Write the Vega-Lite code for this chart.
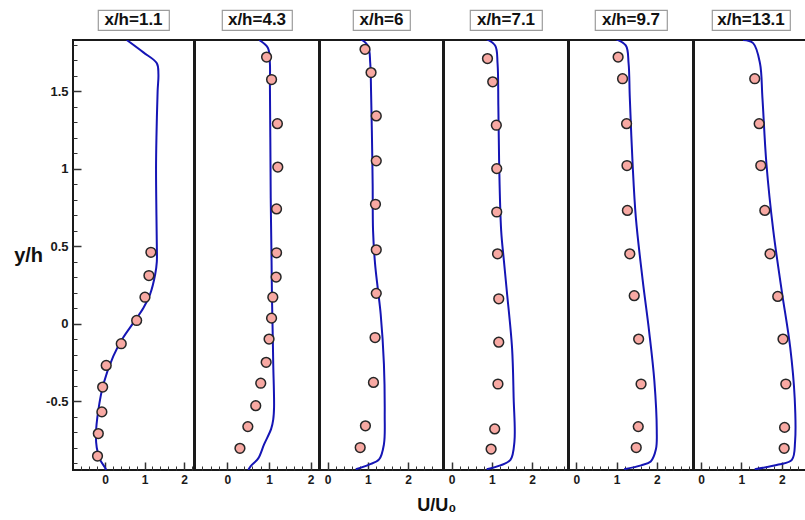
{
  "$schema": "https://vega.github.io/schema/vega-lite/v6.json",
  "padding": {"left": 12, "top": 9, "right": 0, "bottom": 0},
  "background": "white",
  "title": {"text": "U/U₀", "orient": "bottom", "anchor": "middle", "fontSize": 18, "fontWeight": "bold", "font": "Liberation Sans", "color": "#111111", "offset": 11, "dx": 26},
  "datasets": {
    "stations": [
      {"station": "x/h=1.1"}, {"station": "x/h=4.3"}, {"station": "x/h=6"},
      {"station": "x/h=7.1"}, {"station": "x/h=9.7"}, {"station": "x/h=13.1"}
    ],
    "cfd": [
      {"station": "x/h=1.1", "u": 0.55, "y": 1.83},
      {"station": "x/h=1.1", "u": 0.97, "y": 1.75},
      {"station": "x/h=1.1", "u": 1.31, "y": 1.68},
      {"station": "x/h=1.1", "u": 1.35, "y": 1.61},
      {"station": "x/h=1.1", "u": 1.33, "y": 1.5},
      {"station": "x/h=1.1", "u": 1.3, "y": 1.2},
      {"station": "x/h=1.1", "u": 1.29, "y": 1.0},
      {"station": "x/h=1.1", "u": 1.3, "y": 0.7},
      {"station": "x/h=1.1", "u": 1.31, "y": 0.5},
      {"station": "x/h=1.1", "u": 1.31, "y": 0.4},
      {"station": "x/h=1.1", "u": 1.27, "y": 0.32},
      {"station": "x/h=1.1", "u": 1.14, "y": 0.19},
      {"station": "x/h=1.1", "u": 0.97, "y": 0.1},
      {"station": "x/h=1.1", "u": 0.72, "y": 0.006},
      {"station": "x/h=1.1", "u": 0.46, "y": -0.09},
      {"station": "x/h=1.1", "u": 0.21, "y": -0.21},
      {"station": "x/h=1.1", "u": -0.04, "y": -0.39},
      {"station": "x/h=1.1", "u": -0.17, "y": -0.56},
      {"station": "x/h=1.1", "u": -0.23, "y": -0.715},
      {"station": "x/h=1.1", "u": -0.21, "y": -0.8},
      {"station": "x/h=1.1", "u": -0.13, "y": -0.877},
      {"station": "x/h=1.1", "u": 0.0, "y": -0.93},
      {"station": "x/h=1.1", "u": 0.03, "y": -0.945},

      {"station": "x/h=4.3", "u": 0.76, "y": 1.83},
      {"station": "x/h=4.3", "u": 0.97, "y": 1.78},
      {"station": "x/h=4.3", "u": 1.02, "y": 1.68},
      {"station": "x/h=4.3", "u": 1.02, "y": 1.55},
      {"station": "x/h=4.3", "u": 1.03, "y": 1.2},
      {"station": "x/h=4.3", "u": 1.04, "y": 0.81},
      {"station": "x/h=4.3", "u": 1.06, "y": 0.4},
      {"station": "x/h=4.3", "u": 1.07, "y": 0.17},
      {"station": "x/h=4.3", "u": 1.09, "y": -0.1},
      {"station": "x/h=4.3", "u": 1.1, "y": -0.26},
      {"station": "x/h=4.3", "u": 1.12, "y": -0.54},
      {"station": "x/h=4.3", "u": 1.1, "y": -0.62},
      {"station": "x/h=4.3", "u": 1.05, "y": -0.68},
      {"station": "x/h=4.3", "u": 0.88, "y": -0.78},
      {"station": "x/h=4.3", "u": 0.74, "y": -0.87},
      {"station": "x/h=4.3", "u": 0.56, "y": -0.92},
      {"station": "x/h=4.3", "u": 0.5, "y": -0.945},

      {"station": "x/h=6", "u": 0.79, "y": 1.84},
      {"station": "x/h=6", "u": 1.0, "y": 1.795},
      {"station": "x/h=6", "u": 1.06, "y": 1.68},
      {"station": "x/h=6", "u": 1.08, "y": 1.5},
      {"station": "x/h=6", "u": 1.1, "y": 1.245},
      {"station": "x/h=6", "u": 1.12, "y": 0.9},
      {"station": "x/h=6", "u": 1.13, "y": 0.6},
      {"station": "x/h=6", "u": 1.18, "y": 0.385},
      {"station": "x/h=6", "u": 1.25, "y": 0.22},
      {"station": "x/h=6", "u": 1.32, "y": 0.06},
      {"station": "x/h=6", "u": 1.4, "y": -0.26},
      {"station": "x/h=6", "u": 1.42, "y": -0.585},
      {"station": "x/h=6", "u": 1.4, "y": -0.78},
      {"station": "x/h=6", "u": 1.28, "y": -0.877},
      {"station": "x/h=6", "u": 1.03, "y": -0.91},
      {"station": "x/h=6", "u": 0.7, "y": -0.94},

      {"station": "x/h=7.1", "u": 0.83, "y": 1.84},
      {"station": "x/h=7.1", "u": 1.08, "y": 1.795},
      {"station": "x/h=7.1", "u": 1.14, "y": 1.68},
      {"station": "x/h=7.1", "u": 1.16, "y": 1.4},
      {"station": "x/h=7.1", "u": 1.18, "y": 1.03},
      {"station": "x/h=7.1", "u": 1.23, "y": 0.6},
      {"station": "x/h=7.1", "u": 1.3, "y": 0.4},
      {"station": "x/h=7.1", "u": 1.37, "y": 0.21},
      {"station": "x/h=7.1", "u": 1.5, "y": -0.155},
      {"station": "x/h=7.1", "u": 1.54, "y": -0.48},
      {"station": "x/h=7.1", "u": 1.56, "y": -0.76},
      {"station": "x/h=7.1", "u": 1.46, "y": -0.88},
      {"station": "x/h=7.1", "u": 1.21, "y": -0.915},
      {"station": "x/h=7.1", "u": 0.87, "y": -0.94},

      {"station": "x/h=9.7", "u": 0.94, "y": 1.84},
      {"station": "x/h=9.7", "u": 1.23, "y": 1.795},
      {"station": "x/h=9.7", "u": 1.3, "y": 1.68},
      {"station": "x/h=9.7", "u": 1.33, "y": 1.46},
      {"station": "x/h=9.7", "u": 1.4, "y": 1.03},
      {"station": "x/h=9.7", "u": 1.48, "y": 0.685},
      {"station": "x/h=9.7", "u": 1.65, "y": 0.28},
      {"station": "x/h=9.7", "u": 1.81, "y": -0.05},
      {"station": "x/h=9.7", "u": 1.94, "y": -0.37},
      {"station": "x/h=9.7", "u": 2.0, "y": -0.69},
      {"station": "x/h=9.7", "u": 1.98, "y": -0.81},
      {"station": "x/h=9.7", "u": 1.85, "y": -0.89},
      {"station": "x/h=9.7", "u": 1.61, "y": -0.915},
      {"station": "x/h=9.7", "u": 1.19, "y": -0.94},

      {"station": "x/h=13.1", "u": 1.04, "y": 1.83},
      {"station": "x/h=13.1", "u": 1.29, "y": 1.81},
      {"station": "x/h=13.1", "u": 1.46, "y": 1.68},
      {"station": "x/h=13.1", "u": 1.52, "y": 1.46},
      {"station": "x/h=13.1", "u": 1.62, "y": 1.03},
      {"station": "x/h=13.1", "u": 1.79, "y": 0.6},
      {"station": "x/h=13.1", "u": 2.0, "y": 0.21},
      {"station": "x/h=13.1", "u": 2.21, "y": -0.155},
      {"station": "x/h=13.1", "u": 2.32, "y": -0.48},
      {"station": "x/h=13.1", "u": 2.33, "y": -0.76},
      {"station": "x/h=13.1", "u": 2.25, "y": -0.88},
      {"station": "x/h=13.1", "u": 1.92, "y": -0.91},
      {"station": "x/h=13.1", "u": 1.33, "y": -0.94}
    ],
    "exp": [
      {"station": "x/h=1.1", "u": 1.16, "y": 0.46},
      {"station": "x/h=1.1", "u": 1.11, "y": 0.31},
      {"station": "x/h=1.1", "u": 1.01, "y": 0.17},
      {"station": "x/h=1.1", "u": 0.8, "y": 0.02},
      {"station": "x/h=1.1", "u": 0.41, "y": -0.13},
      {"station": "x/h=1.1", "u": 0.03, "y": -0.27},
      {"station": "x/h=1.1", "u": -0.06, "y": -0.41},
      {"station": "x/h=1.1", "u": -0.08, "y": -0.57},
      {"station": "x/h=1.1", "u": -0.17, "y": -0.71},
      {"station": "x/h=1.1", "u": -0.19, "y": -0.855},

      {"station": "x/h=4.3", "u": 0.94, "y": 1.72},
      {"station": "x/h=4.3", "u": 1.06, "y": 1.575},
      {"station": "x/h=4.3", "u": 1.2, "y": 1.29},
      {"station": "x/h=4.3", "u": 1.21, "y": 1.01},
      {"station": "x/h=4.3", "u": 1.18, "y": 0.74},
      {"station": "x/h=4.3", "u": 1.18, "y": 0.457},
      {"station": "x/h=4.3", "u": 1.17, "y": 0.3},
      {"station": "x/h=4.3", "u": 1.09, "y": 0.17},
      {"station": "x/h=4.3", "u": 1.06, "y": 0.035},
      {"station": "x/h=4.3", "u": 1.0, "y": -0.1},
      {"station": "x/h=4.3", "u": 0.93, "y": -0.25},
      {"station": "x/h=4.3", "u": 0.8, "y": -0.385},
      {"station": "x/h=4.3", "u": 0.68, "y": -0.53},
      {"station": "x/h=4.3", "u": 0.49, "y": -0.665},
      {"station": "x/h=4.3", "u": 0.3, "y": -0.805},

      {"station": "x/h=6", "u": 0.93, "y": 1.77},
      {"station": "x/h=6", "u": 1.08, "y": 1.62},
      {"station": "x/h=6", "u": 1.21, "y": 1.34},
      {"station": "x/h=6", "u": 1.21, "y": 1.05},
      {"station": "x/h=6", "u": 1.19, "y": 0.77},
      {"station": "x/h=6", "u": 1.21, "y": 0.476},
      {"station": "x/h=6", "u": 1.21, "y": 0.195},
      {"station": "x/h=6", "u": 1.18, "y": -0.09},
      {"station": "x/h=6", "u": 1.14, "y": -0.38},
      {"station": "x/h=6", "u": 0.94, "y": -0.66},
      {"station": "x/h=6", "u": 0.81, "y": -0.8},

      {"station": "x/h=7.1", "u": 0.89, "y": 1.71},
      {"station": "x/h=7.1", "u": 1.02, "y": 1.56},
      {"station": "x/h=7.1", "u": 1.11, "y": 1.28},
      {"station": "x/h=7.1", "u": 1.12, "y": 1.0},
      {"station": "x/h=7.1", "u": 1.12, "y": 0.72},
      {"station": "x/h=7.1", "u": 1.14, "y": 0.45},
      {"station": "x/h=7.1", "u": 1.17, "y": 0.16},
      {"station": "x/h=7.1", "u": 1.17, "y": -0.12},
      {"station": "x/h=7.1", "u": 1.15, "y": -0.39},
      {"station": "x/h=7.1", "u": 1.07, "y": -0.68},
      {"station": "x/h=7.1", "u": 0.98, "y": -0.81},

      {"station": "x/h=9.7", "u": 1.04, "y": 1.72},
      {"station": "x/h=9.7", "u": 1.15, "y": 1.58},
      {"station": "x/h=9.7", "u": 1.25, "y": 1.29},
      {"station": "x/h=9.7", "u": 1.26, "y": 1.02},
      {"station": "x/h=9.7", "u": 1.27, "y": 0.73},
      {"station": "x/h=9.7", "u": 1.33, "y": 0.45},
      {"station": "x/h=9.7", "u": 1.44, "y": 0.18},
      {"station": "x/h=9.7", "u": 1.55, "y": -0.1},
      {"station": "x/h=9.7", "u": 1.61, "y": -0.39},
      {"station": "x/h=9.7", "u": 1.54, "y": -0.665},
      {"station": "x/h=9.7", "u": 1.49, "y": -0.8},

      {"station": "x/h=13.1", "u": 1.33, "y": 1.58},
      {"station": "x/h=13.1", "u": 1.44, "y": 1.29},
      {"station": "x/h=13.1", "u": 1.48, "y": 1.02},
      {"station": "x/h=13.1", "u": 1.58, "y": 0.73},
      {"station": "x/h=13.1", "u": 1.71, "y": 0.45},
      {"station": "x/h=13.1", "u": 1.9, "y": 0.175},
      {"station": "x/h=13.1", "u": 2.03, "y": -0.1},
      {"station": "x/h=13.1", "u": 2.1, "y": -0.39},
      {"station": "x/h=13.1", "u": 2.07, "y": -0.67},
      {"station": "x/h=13.1", "u": 2.06, "y": -0.805}
    ]
  },
  "config": {
    "font": "Liberation Sans",
    "view": {"stroke": "#1a1a1a", "strokeWidth": 2},
    "axis": {
      "grid": false,
      "domain": false,
      "labelFont": "Liberation Sans",
      "labelFontWeight": "bold",
      "labelColor": "#1a1a1a",
      "tickColor": "#333333",
      "titleFont": "Liberation Sans",
      "titleFontWeight": "bold",
      "titleColor": "#111111"
    }
  },
  "spacing": -2,
  "bounds": "full",
  "hconcat": [
    {
      "spacing": 10, "center": true, "bounds": "flush",
      "vconcat": [
        {
          "width": 71, "height": 20,
          "view": {"stroke": "#9c9c9c", "strokeWidth": 1.2, "fill": "white"},
          "data": {"name": "stations"},
          "transform": [{"filter": {"field": "station", "equal": "x/h=1.1"}}],
          "mark": {"type": "text", "fontSize": 17, "fontWeight": "bold", "color": "#111111"},
          "encoding": {"text": {"field": "station"}}
        },
        {
          "width": 121, "height": 430,
          "layer": [
            {
              "data": {"name": "cfd"},
              "transform": [{"filter": {"field": "station", "equal": "x/h=1.1"}}],
              "mark": {"type": "line", "color": "#1515b5", "strokeWidth": 2, "interpolate": "catmull-rom", "clip": true},
              "encoding": {
                "x": {"field": "u", "type": "quantitative", "scale": {"domain": [-0.81, 2.25], "nice": false, "zero": false},
                      "axis": {"orient": "bottom", "values": [0, 1, 2], "tickSize": -8, "tickWidth": 1.5, "labelPadding": 12, "labelFontSize": 12, "title": null}},
                "y": {"field": "y", "type": "quantitative", "scale": {"domain": [-0.945, 1.83], "nice": false, "zero": false},
                      "axis": {"orient": "left", "values": [-0.5, 0, 0.5, 1, 1.5], "tickSize": -8, "tickWidth": 1.5, "labelPadding": 13, "labelFontSize": 13,
                               "labelExpr": "datum.value < 0 ? '-' + format(-datum.value, '~g') : format(datum.value, '~g')",
                               "title": "y/h", "titleAngle": 0, "titleAlign": "right", "titleBaseline": "middle", "titleFontSize": 20, "titlePadding": 3}},
                "order": {"field": "y", "type": "quantitative"}
              }
            },
            {
              "data": {"name": "exp"},
              "transform": [{"filter": {"field": "station", "equal": "x/h=1.1"}}],
              "mark": {"type": "circle", "fill": "#f8a9a3", "stroke": "#262626", "strokeWidth": 1.5, "size": 95, "opacity": 1},
              "encoding": {
                "x": {"field": "u", "type": "quantitative",
                      "axis": {"orient": "bottom", "values": [-0.6, -0.4, -0.2, 0.2, 0.4, 0.6, 0.8, 1.2, 1.4, 1.6, 1.8, 2.2], "tickSize": -4, "tickWidth": 1, "labels": false, "title": null}},
                "y": {"field": "y", "type": "quantitative",
                      "axis": {"orient": "left", "values": [-0.9, -0.8, -0.7, -0.6, -0.4, -0.3, -0.2, -0.1, 0.1, 0.2, 0.3, 0.4, 0.6, 0.7, 0.8, 0.9, 1.1, 1.2, 1.3, 1.4, 1.6, 1.7, 1.8], "tickSize": -4, "tickWidth": 1, "labels": false, "title": null}}
              }
            }
          ],
          "resolve": {"axis": {"x": "independent", "y": "independent"}}
        }
      ]
    },
    {
      "spacing": 10, "center": true, "bounds": "flush",
      "vconcat": [
        {
          "width": 70, "height": 20,
          "view": {"stroke": "#9c9c9c", "strokeWidth": 1.2, "fill": "white"},
          "data": {"name": "stations"},
          "transform": [{"filter": {"field": "station", "equal": "x/h=4.3"}}],
          "mark": {"type": "text", "fontSize": 17, "fontWeight": "bold", "color": "#111111"},
          "encoding": {"text": {"field": "station"}}
        },
        {
          "width": 124, "height": 430,
          "layer": [
            {
              "data": {"name": "cfd"},
              "transform": [{"filter": {"field": "station", "equal": "x/h=4.3"}}],
              "mark": {"type": "line", "color": "#1515b5", "strokeWidth": 2, "interpolate": "catmull-rom", "clip": true},
              "encoding": {
                "x": {"field": "u", "type": "quantitative", "scale": {"domain": [-0.78, 2.2], "nice": false, "zero": false},
                      "axis": {"orient": "bottom", "values": [0, 1, 2], "tickSize": -8, "tickWidth": 1.5, "labelPadding": 12, "labelFontSize": 12, "title": null}},
                "y": {"field": "y", "type": "quantitative", "scale": {"domain": [-0.945, 1.83], "nice": false, "zero": false}, "axis": null},
                "order": {"field": "y", "type": "quantitative"}
              }
            },
            {
              "data": {"name": "exp"},
              "transform": [{"filter": {"field": "station", "equal": "x/h=4.3"}}],
              "mark": {"type": "circle", "fill": "#f8a9a3", "stroke": "#262626", "strokeWidth": 1.5, "size": 95, "opacity": 1},
              "encoding": {
                "x": {"field": "u", "type": "quantitative",
                      "axis": {"orient": "bottom", "values": [-0.6, -0.4, -0.2, 0.2, 0.4, 0.6, 0.8, 1.2, 1.4, 1.6, 1.8], "tickSize": -4, "tickWidth": 1, "labels": false, "title": null}},
                "y": {"field": "y", "type": "quantitative", "axis": null}
              }
            }
          ],
          "resolve": {"axis": {"x": "independent", "y": "independent"}}
        }
      ]
    },
    {
      "spacing": 10, "center": true, "bounds": "flush",
      "vconcat": [
        {
          "width": 57, "height": 20,
          "view": {"stroke": "#9c9c9c", "strokeWidth": 1.2, "fill": "white"},
          "data": {"name": "stations"},
          "transform": [{"filter": {"field": "station", "equal": "x/h=6"}}],
          "mark": {"type": "text", "fontSize": 17, "fontWeight": "bold", "color": "#111111"},
          "encoding": {"text": {"field": "station"}}
        },
        {
          "width": 123, "height": 430,
          "layer": [
            {
              "data": {"name": "cfd"},
              "transform": [{"filter": {"field": "station", "equal": "x/h=6"}}],
              "mark": {"type": "line", "color": "#1515b5", "strokeWidth": 2, "interpolate": "catmull-rom", "clip": true},
              "encoding": {
                "x": {"field": "u", "type": "quantitative", "scale": {"domain": [-0.19, 2.87], "nice": false, "zero": false},
                      "axis": {"orient": "bottom", "values": [0, 1, 2], "tickSize": -8, "tickWidth": 1.5, "labelPadding": 12, "labelFontSize": 12, "title": null}},
                "y": {"field": "y", "type": "quantitative", "scale": {"domain": [-0.945, 1.83], "nice": false, "zero": false}, "axis": null},
                "order": {"field": "y", "type": "quantitative"}
              }
            },
            {
              "data": {"name": "exp"},
              "transform": [{"filter": {"field": "station", "equal": "x/h=6"}}],
              "mark": {"type": "circle", "fill": "#f8a9a3", "stroke": "#262626", "strokeWidth": 1.5, "size": 95, "opacity": 1},
              "encoding": {
                "x": {"field": "u", "type": "quantitative",
                      "axis": {"orient": "bottom", "values": [0.2, 0.4, 0.6, 0.8, 1.2, 1.4, 1.6, 1.8, 2.2, 2.4, 2.6], "tickSize": -4, "tickWidth": 1, "labels": false, "title": null}},
                "y": {"field": "y", "type": "quantitative", "axis": null}
              }
            }
          ],
          "resolve": {"axis": {"x": "independent", "y": "independent"}}
        }
      ]
    },
    {
      "spacing": 10, "center": true, "bounds": "flush",
      "vconcat": [
        {
          "width": 72, "height": 20,
          "view": {"stroke": "#9c9c9c", "strokeWidth": 1.2, "fill": "white"},
          "data": {"name": "stations"},
          "transform": [{"filter": {"field": "station", "equal": "x/h=7.1"}}],
          "mark": {"type": "text", "fontSize": 17, "fontWeight": "bold", "color": "#111111"},
          "encoding": {"text": {"field": "station"}}
        },
        {
          "width": 124, "height": 430,
          "layer": [
            {
              "data": {"name": "cfd"},
              "transform": [{"filter": {"field": "station", "equal": "x/h=7.1"}}],
              "mark": {"type": "line", "color": "#1515b5", "strokeWidth": 2, "interpolate": "catmull-rom", "clip": true},
              "encoding": {
                "x": {"field": "u", "type": "quantitative", "scale": {"domain": [-0.19, 2.89], "nice": false, "zero": false},
                      "axis": {"orient": "bottom", "values": [0, 1, 2], "tickSize": -8, "tickWidth": 1.5, "labelPadding": 12, "labelFontSize": 12, "title": null}},
                "y": {"field": "y", "type": "quantitative", "scale": {"domain": [-0.945, 1.83], "nice": false, "zero": false}, "axis": null},
                "order": {"field": "y", "type": "quantitative"}
              }
            },
            {
              "data": {"name": "exp"},
              "transform": [{"filter": {"field": "station", "equal": "x/h=7.1"}}],
              "mark": {"type": "circle", "fill": "#f8a9a3", "stroke": "#262626", "strokeWidth": 1.5, "size": 95, "opacity": 1},
              "encoding": {
                "x": {"field": "u", "type": "quantitative",
                      "axis": {"orient": "bottom", "values": [0.2, 0.4, 0.6, 0.8, 1.2, 1.4, 1.6, 1.8, 2.2, 2.4, 2.6, 2.8], "tickSize": -4, "tickWidth": 1, "labels": false, "title": null}},
                "y": {"field": "y", "type": "quantitative", "axis": null}
              }
            }
          ],
          "resolve": {"axis": {"x": "independent", "y": "independent"}}
        }
      ]
    },
    {
      "spacing": 10, "center": true, "bounds": "flush",
      "vconcat": [
        {
          "width": 72, "height": 20,
          "view": {"stroke": "#9c9c9c", "strokeWidth": 1.2, "fill": "white"},
          "data": {"name": "stations"},
          "transform": [{"filter": {"field": "station", "equal": "x/h=9.7"}}],
          "mark": {"type": "text", "fontSize": 17, "fontWeight": "bold", "color": "#111111"},
          "encoding": {"text": {"field": "station"}}
        },
        {
          "width": 124, "height": 430,
          "layer": [
            {
              "data": {"name": "cfd"},
              "transform": [{"filter": {"field": "station", "equal": "x/h=9.7"}}],
              "mark": {"type": "line", "color": "#1515b5", "strokeWidth": 2, "interpolate": "catmull-rom", "clip": true},
              "encoding": {
                "x": {"field": "u", "type": "quantitative", "scale": {"domain": [-0.18, 2.9], "nice": false, "zero": false},
                      "axis": {"orient": "bottom", "values": [0, 1, 2], "tickSize": -8, "tickWidth": 1.5, "labelPadding": 12, "labelFontSize": 12, "title": null}},
                "y": {"field": "y", "type": "quantitative", "scale": {"domain": [-0.945, 1.83], "nice": false, "zero": false}, "axis": null},
                "order": {"field": "y", "type": "quantitative"}
              }
            },
            {
              "data": {"name": "exp"},
              "transform": [{"filter": {"field": "station", "equal": "x/h=9.7"}}],
              "mark": {"type": "circle", "fill": "#f8a9a3", "stroke": "#262626", "strokeWidth": 1.5, "size": 95, "opacity": 1},
              "encoding": {
                "x": {"field": "u", "type": "quantitative",
                      "axis": {"orient": "bottom", "values": [0.2, 0.4, 0.6, 0.8, 1.2, 1.4, 1.6, 1.8, 2.2, 2.4, 2.6, 2.8], "tickSize": -4, "tickWidth": 1, "labels": false, "title": null}},
                "y": {"field": "y", "type": "quantitative", "axis": null}
              }
            }
          ],
          "resolve": {"axis": {"x": "independent", "y": "independent"}}
        }
      ]
    },
    {
      "spacing": 10, "center": true, "bounds": "flush",
      "vconcat": [
        {
          "width": 78, "height": 20,
          "view": {"stroke": "#9c9c9c", "strokeWidth": 1.2, "fill": "white"},
          "data": {"name": "stations"},
          "transform": [{"filter": {"field": "station", "equal": "x/h=13.1"}}],
          "mark": {"type": "text", "fontSize": 17, "fontWeight": "bold", "color": "#111111"},
          "encoding": {"text": {"field": "station"}}
        },
        {
          "width": 114, "height": 430,
          "layer": [
            {
              "data": {"name": "cfd"},
              "transform": [{"filter": {"field": "station", "equal": "x/h=13.1"}}],
              "mark": {"type": "line", "color": "#1515b5", "strokeWidth": 2, "interpolate": "catmull-rom", "clip": true},
              "encoding": {
                "x": {"field": "u", "type": "quantitative", "scale": {"domain": [-0.175, 2.65], "nice": false, "zero": false},
                      "axis": {"orient": "bottom", "values": [0, 1, 2], "tickSize": -8, "tickWidth": 1.5, "labelPadding": 12, "labelFontSize": 12, "title": null}},
                "y": {"field": "y", "type": "quantitative", "scale": {"domain": [-0.945, 1.83], "nice": false, "zero": false}, "axis": null},
                "order": {"field": "y", "type": "quantitative"}
              }
            },
            {
              "data": {"name": "exp"},
              "transform": [{"filter": {"field": "station", "equal": "x/h=13.1"}}],
              "mark": {"type": "circle", "fill": "#f8a9a3", "stroke": "#262626", "strokeWidth": 1.5, "size": 95, "opacity": 1},
              "encoding": {
                "x": {"field": "u", "type": "quantitative",
                      "axis": {"orient": "bottom", "values": [0.2, 0.4, 0.6, 0.8, 1.2, 1.4, 1.6, 1.8, 2.2, 2.4], "tickSize": -4, "tickWidth": 1, "labels": false, "title": null}},
                "y": {"field": "y", "type": "quantitative", "axis": null}
              }
            }
          ],
          "resolve": {"axis": {"x": "independent", "y": "independent"}}
        }
      ]
    }
  ]
}
